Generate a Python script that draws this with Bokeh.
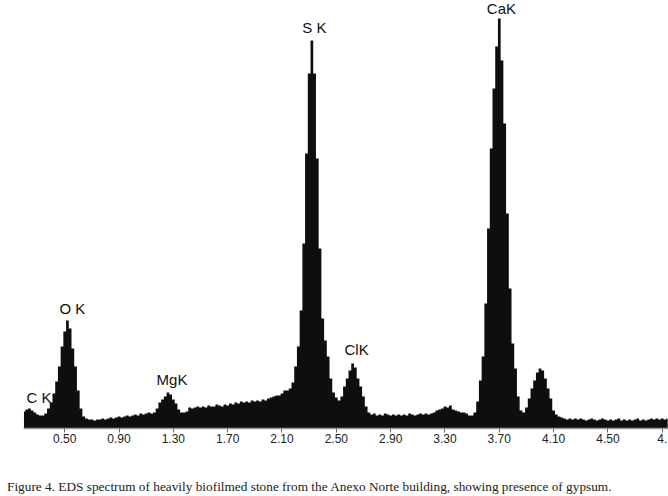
from bokeh.plotting import figure
from bokeh.models import FixedTicker, NumeralTickFormatter, Range1d, ColumnDataSource, Div
from bokeh.layouts import column
from bokeh.core.properties import value
from bokeh.embed import file_html
from bokeh.resources import INLINE

# EDS spectrum, channels every 0.02 keV starting at 0.20 keV (counts, arbitrary units)
start_kev = 0.20
step_kev = 0.02
counts = [
    17, 19, 20, 18, 16, 14, 13, 13, 15, 20,      # 0.20-0.38
    26, 35, 47, 62, 82, 97, 108, 100, 80, 62,    # 0.40-0.58
    38, 20, 12, 10, 9, 9, 8, 9, 9, 10,           # 0.60-0.78
    9, 10, 11, 10, 11, 12, 11, 12, 13, 12,       # 0.80-0.98
    13, 14, 13, 15, 14, 15, 16, 15, 16, 20,      # 1.00-1.18
    26, 29, 32, 36, 34, 29, 25, 19, 16, 16,      # 1.20-1.38
    17, 21, 20, 21, 22, 21, 22, 21, 23, 22,      # 1.40-1.58
    22, 24, 23, 22, 24, 23, 25, 24, 26, 25,      # 1.60-1.78
    27, 26, 27, 26, 28, 27, 28, 27, 29, 28,      # 1.80-1.98
    30, 31, 32, 33, 33, 35, 38, 38, 40, 46,      # 2.00-2.18
    62, 82, 118, 185, 275, 355, 388, 355, 270, 180,  # 2.20-2.38
    110, 88, 72, 50, 36, 31, 28, 32, 42, 50,     # 2.40-2.58
    58, 65, 61, 50, 42, 32, 22, 16, 14, 15,      # 2.60-2.78
    13, 14, 13, 15, 14, 13, 14, 13, 14, 13,      # 2.80-2.98
    14, 13, 15, 14, 13, 14, 15, 14, 15, 14,      # 3.00-3.18
    15, 16, 18, 19, 20, 22, 21, 23, 19, 18,      # 3.20-3.38
    17, 16, 16, 15, 13, 13, 16, 27, 48, 72,      # 3.40-3.58
    125, 200, 280, 340, 382, 410, 368, 305, 215, 140,  # 3.60-3.78
    85, 60, 32, 18, 16, 21, 30, 40, 48, 56,      # 3.80-3.98
    60, 58, 50, 40, 30, 18, 14, 12, 11, 10,      # 4.00-4.18
    9, 10, 9, 10, 9, 10, 9, 8, 9, 10,            # 4.20-4.38
    9, 8, 9, 10, 9, 8, 9, 8, 9, 10,              # 4.40-4.58
    8, 9, 8, 9, 8, 9, 10, 8, 9, 8,               # 4.60-4.78
    9, 10, 9, 10, 9, 10, 9, 10,                  # 4.80-4.94
]
energy = [round(start_kev + step_kev * i, 2) for i in range(len(counts))]

tick_values = [0.50, 0.90, 1.30, 1.70, 2.10, 2.50, 2.90, 3.30, 3.70, 4.10, 4.50, 4.90]

peak_names = ["C K", "O K", "MgK", "S K", "ClK", "CaK"]
peak_kev = [0.311, 0.557, 1.290, 2.339, 2.649, 3.716]
peak_label_y = [31, 120, 49.5, 401, 79, 420]

caption = ("Figure 4. EDS spectrum of heavily biofilmed stone from the Anexo Norte "
           "building, showing presence of gypsum.")

p = figure(width=668, height=474, output_backend="svg", toolbar_location=None,
           x_range=Range1d(0.1966, 4.946), y_range=Range1d(0, 428),
           y_axis_location=None, min_border_left=23, min_border_right=0,
           min_border_top=0, min_border_bottom=46)
p.outline_line_color = None
p.xgrid.visible = False
p.ygrid.visible = False
p.background_fill_color = "white"
p.border_fill_color = "white"

src = ColumnDataSource(dict(x=energy, y=counts))
p.varea_step(x="x", y1=0, y2="y", step_mode="center", source=src,
             fill_color="#0e0e0e")

lab = ColumnDataSource(dict(x=peak_kev, y=peak_label_y, t=peak_names))
p.text(x="x", y="y", text="t", source=lab, text_align="center",
       text_baseline="middle", text_font=value("Liberation Sans"),
       text_font_size="15px", text_color="#111111")

ax = p.xaxis[0]
ax.ticker = FixedTicker(ticks=tick_values)
ax.formatter = NumeralTickFormatter(format="0.00")
ax.major_label_overrides = {4.9: "4."}
ax.axis_line_color = "#9a9a9a"
ax.axis_line_width = 1.5
ax.major_tick_line_color = "#666666"
ax.major_tick_out = 4
ax.major_tick_in = 0
ax.minor_tick_line_color = None
ax.major_label_standoff = 1
ax.major_label_text_font = "Liberation Sans"
ax.major_label_text_font_size = "12px"
ax.major_label_text_color = "#222222"

cap = Div(text=caption, width=668, height=20,
          styles={"font-family": "'Liberation Serif', serif", "font-size": "13.3px",
                  "color": "#222222", "padding-left": "2px", "line-height": "16px",
                  "white-space": "nowrap"})

layout = column(p, cap, spacing=0)

open("out.html", "w").write(file_html(layout, INLINE))
